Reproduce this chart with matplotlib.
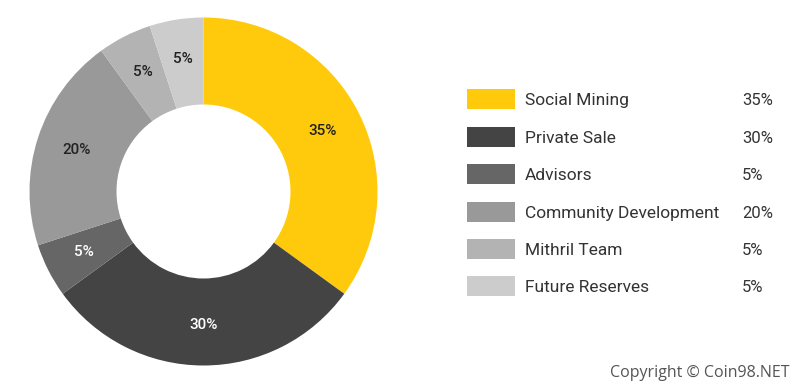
import matplotlib.pyplot as plt
from matplotlib.patches import Rectangle

labels = ['Social Mining', 'Private Sale', 'Advisors', 'Community Development',
          'Mithril Team', 'Future Reserves']
shares = [35, 30, 5, 20, 5, 5]
colors = ['#FFCA0B', '#444444', '#666666', '#999999', '#B3B3B3', '#CCCCCC']
text_colors = ['#222222', '#FFFFFF', '#FFFFFF', '#222222', '#222222', '#222222']

plt.rcParams['font.family'] = ['Roboto', 'DejaVu Sans']

fig = plt.figure(figsize=(8.11, 3.88), dpi=100)
W, H = 811, 388

# donut: centre ~ (203.5, 191.5) px, radius ~174 px
cx, cy, r = 203.5, 191.5, 174
ax = fig.add_axes([(cx - r) / W, (H - cy - r) / H, 2 * r / W, 2 * r / H])
wedges, texts, autotexts = ax.pie(
    shares, colors=colors, startangle=90, counterclock=False,
    radius=1.0, wedgeprops=dict(width=0.5, linewidth=0),
    autopct='%d%%', pctdistance=0.77,
    textprops=dict(fontsize=11, fontweight='medium'))
for t, c in zip(autotexts, text_colors):
    t.set_color(c)
ax.set_xlim(-1, 1)
ax.set_ylim(-1, 1)
ax.set_aspect('equal')
ax.axis('off')

# legend drawn by hand
row_y = [99, 137, 174, 212, 249, 286]
for lab, val, col, y in zip(labels, shares, colors, row_y):
    fig.patches.append(Rectangle((467 / W, (H - y - 10) / H), 48 / W, 20 / H,
                                 transform=fig.transFigure, color=col,
                                 linewidth=0))
    fig.text(525 / W, (H - y - 1.5) / H, lab, fontsize=12.5, color='#333333',
             va='center', ha='left')
    fig.text(742 / W, (H - y - 1.5) / H, f'{val}%', fontsize=12, color='#333333',
             va='center', ha='left')

fig.text(790 / W, (H - 373) / H, 'Copyright \u00a9 Coin98.NET', fontsize=11.5,
         color='#555555', va='center', ha='right',
         family=['Open Sans', 'DejaVu Sans'])

fig.savefig('out.png', dpi=100)
